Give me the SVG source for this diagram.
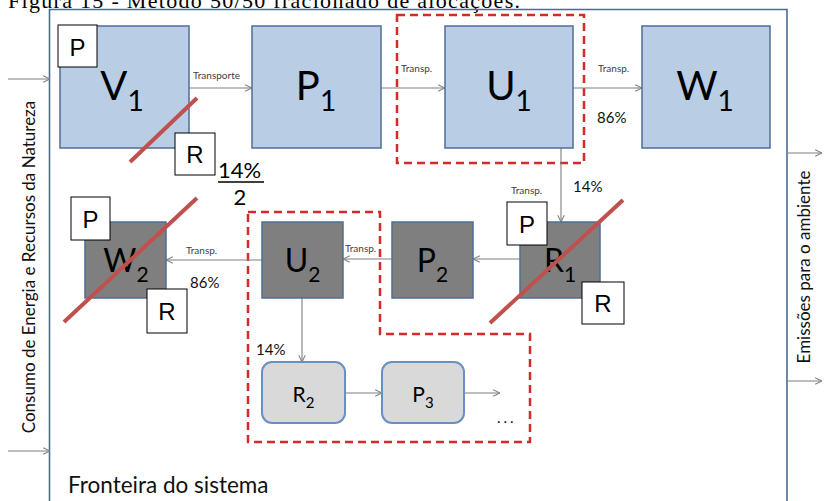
<svg xmlns="http://www.w3.org/2000/svg" width="824" height="501" viewBox="0 0 824 501">
<style>
.bnd{fill:none;stroke:#4a6d96;stroke-width:1.6}
.blue{fill:#b9cde5;stroke:#4f6d95;stroke-width:1.5}
.gray{fill:#7f7f7f;stroke:#4f6d95;stroke-width:1.5}
.light{fill:#d9d9d9;stroke:#6b8fc4;stroke-width:2}
.tag{fill:#fff;stroke:#000;stroke-width:1}
.tagt{font-family:"Liberation Sans",Arial,sans-serif;font-size:24px;fill:#000;text-anchor:middle}
.big{font-family:Lato,"Open Sans",sans-serif;font-size:40px;fill:#000;text-anchor:middle}
.mid{font-family:Lato,"Open Sans",sans-serif;font-size:32px;fill:#000;text-anchor:middle}
.sm{font-family:Lato,"Open Sans",sans-serif;font-size:21px;fill:#000;text-anchor:middle}
.lbl{font-family:Lato,"Open Sans",sans-serif;font-size:10px;fill:#404040}
.pct{font-family:Lato,"Open Sans",sans-serif;font-size:15px;fill:#111}
.side{font-family:Lato,"Open Sans",sans-serif;font-size:17px;fill:#111;text-anchor:middle}
.conn{fill:none;stroke:#7f7f7f;stroke-width:1.1}
.slash{stroke:#c0504d;stroke-width:4;fill:none}
.dash{fill:none;stroke:#d42a2a;stroke-width:2.5;stroke-dasharray:8,5}
</style>
<defs>
<marker id="ah" viewBox="0 0 10 10" refX="9.5" refY="5" markerWidth="8" markerHeight="8" orient="auto" markerUnits="userSpaceOnUse">
<path d="M1,1 L9.5,5 L1,9" fill="none" stroke="#7f7f7f" stroke-width="1.3"/>
</marker>
</defs>

<text x="8" y="8" font-family="'Liberation Serif','Times New Roman',serif" font-size="22" textLength="512" fill="#000">Figura 15 - Método 50/50 fracionado de alocações.</text>

<g id="boundary">
<path class="bnd" d="M49.5,510 V9.5 H787 V510"/>
<text class="side" transform="translate(35,267) rotate(-90)">Consumo de Energia e Recursos da Natureza</text>
<text class="side" transform="translate(810,267) rotate(-90)">Emissões para o ambiente</text>
<text x="68" y="493" font-family="Lato,'Open Sans',sans-serif" font-size="22.5" fill="#111">Fronteira do sistema</text>
</g>

<g id="groups">
<rect class="dash" x="397" y="15" width="187" height="148"/>
<path class="dash" d="M248,212 H380 V334 H530 V442 H248 Z"/>
</g>

<g id="connectors">
<path class="conn" d="M8,79 H50" marker-end="url(#ah)"/>
<path class="conn" d="M8,451 H50" marker-end="url(#ah)"/>
<path class="conn" d="M189,88 H252" marker-end="url(#ah)"/>
<path class="conn" d="M381,88 H445" marker-end="url(#ah)"/>
<path class="conn" d="M573,88 H642" marker-end="url(#ah)"/>
<path class="conn" d="M561,148 V222" marker-end="url(#ah)"/>
<path class="conn" d="M520,259 H473" marker-end="url(#ah)"/>
<path class="conn" d="M392,259 H343" marker-end="url(#ah)"/>
<path class="conn" d="M262,260 H166" marker-end="url(#ah)"/>
<path class="conn" d="M302,298 V362" marker-end="url(#ah)"/>
<path class="conn" d="M345,393 H382" marker-end="url(#ah)"/>
<path class="conn" d="M464,393 H500" marker-end="url(#ah)"/>
<path class="conn" d="M787,153 H822" marker-end="url(#ah)"/>
<path class="conn" d="M787,381 H822" marker-end="url(#ah)"/>
<text class="lbl" x="193" y="79">Transporte</text>
<text class="lbl" x="401" y="72">Transp.</text>
<text class="lbl" x="598" y="72">Transp.</text>
<text class="pct" x="597" y="123">86%</text>
<text class="lbl" x="511" y="194">Transp.</text>
<text class="pct" x="573" y="192">14%</text>
<text class="lbl" x="345" y="252">Transp.</text>
<text class="lbl" x="186" y="254">Transp.</text>
<text class="pct" x="190" y="288">86%</text>
<text class="pct" x="256" y="355">14%</text>
<text class="pct" x="497" y="423" letter-spacing="3">...</text>
</g>

<g id="V1">
<rect class="blue" x="60" y="26" width="129" height="122"/>
<text class="big" x="122" y="100">V<tspan dy="11" font-size="28">1</tspan></text>
<line class="slash" x1="130" y1="162" x2="197" y2="98"/>
<rect class="tag" x="58" y="25" width="39" height="42"/>
<text class="tagt" x="77.5" y="56">P</text>
<rect class="tag" x="175" y="133" width="40" height="42"/>
<text class="tagt" x="195" y="163">R</text>
<text x="218" y="178" font-family="Lato,'Open Sans',sans-serif" font-size="22" fill="#000">14%</text>
<line x1="218" y1="182" x2="264" y2="182" stroke="#000" stroke-width="1.3"/>
<text x="240" y="205" font-family="Lato,'Open Sans',sans-serif" font-size="22" fill="#000" text-anchor="middle">2</text>
</g>

<g id="P1">
<rect class="blue" x="252" y="26" width="129" height="122"/>
<text class="big" x="316" y="100">P<tspan dy="11" font-size="28">1</tspan></text>
</g>

<g id="U1">
<rect class="blue" x="445" y="26" width="128" height="122"/>
<text class="big" x="509" y="100">U<tspan dy="11" font-size="28">1</tspan></text>
</g>

<g id="W1">
<rect class="blue" x="642" y="26" width="128" height="122"/>
<text class="big" x="705" y="100">W<tspan dy="11" font-size="28">1</tspan></text>
</g>

<g id="W2">
<rect class="gray" x="85" y="222" width="81" height="76"/>
<text class="mid" x="126" y="272">W<tspan dy="10" font-size="21">2</tspan></text>
<line class="slash" x1="64" y1="322" x2="197" y2="198"/>
<rect class="tag" x="71" y="197" width="39" height="43"/>
<text class="tagt" x="90.5" y="228">P</text>
<rect class="tag" x="147" y="289" width="40" height="44"/>
<text class="tagt" x="167" y="320">R</text>
</g>

<g id="U2">
<rect class="gray" x="262" y="222" width="81" height="76"/>
<text class="mid" x="302.5" y="272">U<tspan dy="10" font-size="21">2</tspan></text>
</g>

<g id="P2">
<rect class="gray" x="392" y="222" width="81" height="76"/>
<text class="mid" x="432.5" y="272">P<tspan dy="10" font-size="21">2</tspan></text>
</g>

<g id="R1">
<rect class="gray" x="520" y="222" width="80" height="76"/>
<text class="mid" x="560" y="272">R<tspan dy="10" font-size="21">1</tspan></text>
<line class="slash" x1="490" y1="323" x2="623" y2="200"/>
<rect class="tag" x="507" y="202" width="40" height="43"/>
<text class="tagt" x="527" y="233">P</text>
<rect class="tag" x="582" y="282" width="42" height="42"/>
<text class="tagt" x="603" y="312">R</text>
</g>

<g id="R2">
<rect class="light" x="262" y="362" width="83" height="61" rx="10"/>
<text class="sm" x="303.5" y="402">R<tspan dy="6" font-size="15">2</tspan></text>
</g>

<g id="P3">
<rect class="light" x="382" y="362" width="82" height="61" rx="10"/>
<text class="sm" x="423" y="402">P<tspan dy="6" font-size="15">3</tspan></text>
</g>
</svg>
